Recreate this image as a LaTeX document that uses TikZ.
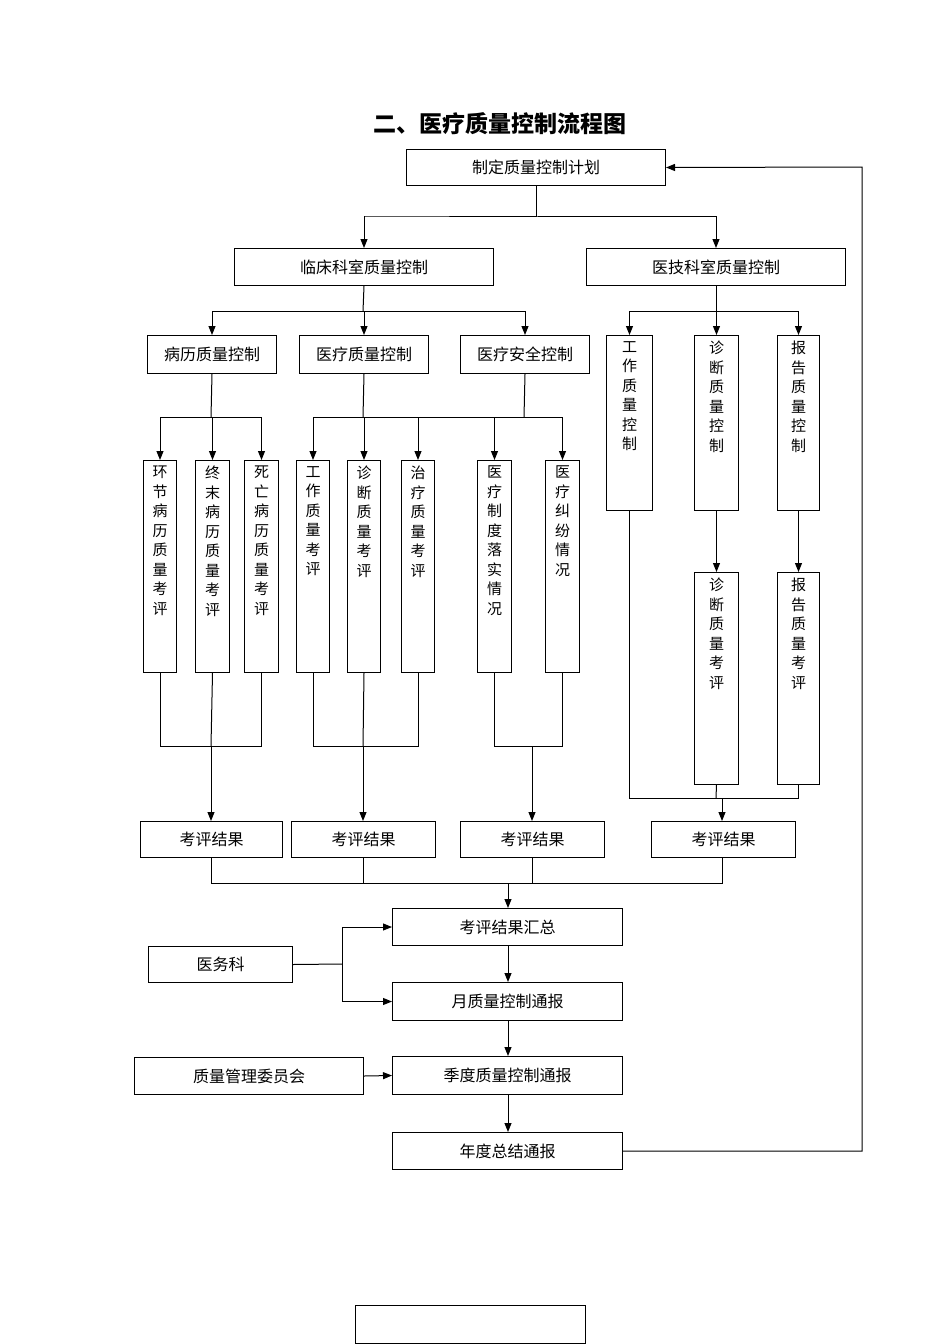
\documentclass[tikz,border=0pt]{standalone}
\usepackage{fontspec}
\setmainfont{Noto Sans CJK SC}
\usetikzlibrary{arrows.meta}
\newcommand\bx[6]{\node[bx,minimum width={(#4-#2)*1pt},minimum height={(#5-#3)*1pt},anchor=north west] (#1) at (#2,#3) {#6};}
\newcommand\vbx[6]{\node[bx,minimum width={(#4-#2)*1pt},minimum height={(#5-#3)*1pt},anchor=north west] (#1) at (#2,#3) {};
\node[vt,anchor=north] at ([yshift=-6pt]#1.north) {#6};}
\begin{document}
\begin{tikzpicture}[x=1pt,y=-1pt,
 bx/.style={draw,line width=1pt,inner sep=0pt,font=\fontsize{16}{18}\selectfont},
 vt/.style={align=center,font=\fontsize{15}{19.5}\selectfont,inner sep=0pt},
 ln/.style={line width=1pt},
 ar/.style={line width=1pt,-{Triangle[length=9pt,width=7pt]}}]
\useasboundingbox (0,0) rectangle (950,1344);
\node[font=\fontsize{23}{26}\selectfont\bfseries] (title) at (500,124) {二、医疗质量控制流程图};
\bx{a}{406}{149}{665}{185}{制定质量控制计划}
\bx{b1}{234}{248}{493}{285}{临床科室质量控制}
\bx{b2}{586}{248}{845}{285}{医技科室质量控制}
\bx{c1}{147}{335}{276}{373}{病历质量控制}
\bx{c2}{299}{335}{428}{373}{医疗质量控制}
\bx{c3}{460}{335}{589}{373}{医疗安全控制}
\vbx{d1}{606}{335}{652}{510}{工\\作\\质\\量\\控\\制}
\vbx{d2}{694}{335}{738}{510}{诊\\断\\质\\量\\控\\制}
\vbx{d3}{777}{335}{819}{510}{报\\告\\质\\量\\控\\制}
\vbx{e1}{143}{460}{176}{672}{环\\节\\病\\历\\质\\量\\考\\评}
\vbx{e2}{195}{460}{229}{672}{终\\末\\病\\历\\质\\量\\考\\评}
\vbx{e3}{244}{460}{278}{672}{死\\亡\\病\\历\\质\\量\\考\\评}
\vbx{e4}{296}{460}{329}{672}{工\\作\\质\\量\\考\\评}
\vbx{e5}{347}{460}{380}{672}{诊\\断\\质\\量\\考\\评}
\vbx{e6}{401}{460}{434}{672}{治\\疗\\质\\量\\考\\评}
\vbx{e7}{477}{460}{511}{672}{医\\疗\\制\\度\\落\\实\\情\\况}
\vbx{e8}{545}{460}{579}{672}{医\\疗\\纠\\纷\\情\\况}
\vbx{f1}{694}{572}{738}{784}{诊\\断\\质\\量\\考\\评}
\vbx{f2}{777}{572}{819}{784}{报\\告\\质\\量\\考\\评}
\bx{g1}{140}{821}{282}{857}{考评结果}
\bx{g2}{291}{821}{435}{857}{考评结果}
\bx{g3}{460}{821}{604}{857}{考评结果}
\bx{g4}{651}{821}{795}{857}{考评结果}
\bx{h1}{392}{908}{622}{945}{考评结果汇总}
\bx{h2}{392}{982}{622}{1020}{月质量控制通报}
\bx{h3}{392}{1056}{622}{1094}{季度质量控制通报}
\bx{h4}{392}{1132}{622}{1169}{年度总结通报}
\bx{m}{148}{946}{292}{982}{医务科}
\bx{q}{134}{1057}{363}{1094}{质量管理委员会}
\bx{blank}{355}{1305}{585}{1343}{}
% top tree
\draw[ln] (a.south) |- (b1.north |- 0,216) -- (b2.north |- 0,216);
\foreach \t in {b1,b2} \draw[ar] (\t.north |- 0,216) -- (\t.north);
\draw[ln] (b1.south) -- (363,311);
\draw[ln] (c1.north |- 0,311) -- (c3.north |- 0,311);
\foreach \t in {c1,c2,c3} \draw[ar] (\t.north |- 0,311) -- (\t.north);
\draw[ln] (b2.south) -- (716,311);
\draw[ln] (d1.north |- 0,311) -- (d3.north |- 0,311);
\foreach \t in {d1,d2,d3} \draw[ar] (\t.north |- 0,311) -- (\t.north);
\draw[ln] (c1.south) -- (211,417);
\draw[ln] (e1.north |- 0,417) -- (e3.north |- 0,417);
\foreach \t in {e1,e2,e3} \draw[ar] (\t.north |- 0,417) -- (\t.north);
\draw[ln] (c2.south) -- (363,417);
\draw[ln] (c3.south) -- (524,417);
\draw[ln] (e4.north |- 0,417) -- (e8.north |- 0,417);
\foreach \t in {e4,e5,e6,e7,e8} \draw[ar] (\t.north |- 0,417) -- (\t.north);
\draw[ar] (d2.south) -- (f1.north);
\draw[ar] (d3.south) -- (f2.north);
% collectors
\draw[ln] (e1.south) |- (e3.south |- 0,746) -- (e3.south);
\draw[ln] (e2.south) -- (211,746);
\draw[ar] (211,746) -- (g1.north -| 211,0);
\draw[ln] (e4.south) |- (e6.south |- 0,746) -- (e6.south);
\draw[ln] (e5.south) -- (363,746);
\draw[ar] (363,746) -- (g2.north -| 363,0);
\draw[ln] (e7.south) |- (e8.south |- 0,746) -- (e8.south);
\draw[ar] (532,746) -- (g3.north -| 532,0);
\draw[ln] (d1.south) |- (f2.south |- 0,798) -- (f2.south);
\draw[ln] (f1.south) -- (716,798);
\draw[ar] (722,798) -- (g4.north -| 722,0);
\draw[ln] (g1.south -| 211,0) |- (722,883) -- (g4.south -| 722,0);
\draw[ln] (g2.south -| 363,0) -- (363,883);
\draw[ln] (g3.south -| 532,0) -- (532,883);
\draw[ar] (508,883) -- (h1.north -| 508,0);
% bottom
\draw[ln] (m.east) -- (342,964);
\draw[ar] (342,964) |- (h1.west);
\draw[ar] (342,964) |- (h2.west);
\draw[ar] (h1.south -| 508,0) -- (h2.north -| 508,0);
\draw[ar] (h2.south -| 508,0) -- (h3.north -| 508,0);
\draw[ar] (h3.south -| 508,0) -- (h4.north -| 508,0);
\draw[ar] (q.east) -- (h3.west);
\draw[ar] (h4.east) -| (862,167) -- (a.east);
\end{tikzpicture}
\end{document}
